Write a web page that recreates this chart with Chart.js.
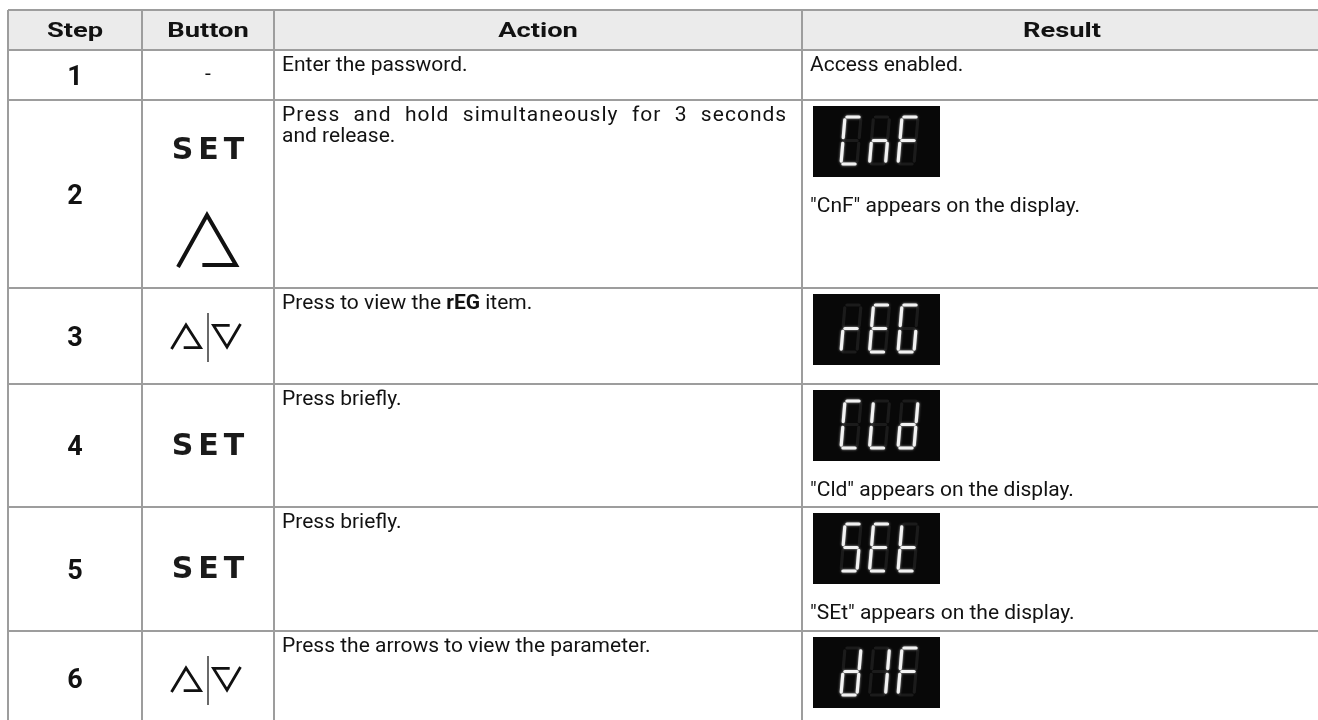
<!DOCTYPE html>
<html>
<head>
<meta charset="utf-8">
<script src="https://cdn.jsdelivr.net/npm/chart.js@4.4.1/dist/chart.umd.min.js"></script>
<style>
  html, body { margin: 0; padding: 0; background: #fff; overflow: hidden; }
  canvas { display: block; }
</style>
</head>
<body>
<canvas id="tableCanvas" width="1322" height="726"></canvas>
<script>
// table content
var columns = ['Step', 'Button', 'Action', 'Result'];
var steps = ['1', '2', '3', '4', '5', '6'];
var buttons = ['-', 'SET+UP', 'UP|DOWN', 'SET', 'SET', 'UP|DOWN'];
var actions = [
  'Enter the password.',
  'Press and hold simultaneously for 3 seconds\nand release.',
  'Press to view the **rEG** item.',
  'Press briefly.',
  'Press briefly.',
  'Press the arrows to view the parameter.'
];
var displays = ['', 'CnF', 'rEG', 'CLd', 'SEt', 'dIF'];
var results = [
  'Access enabled.',
  '"CnF" appears on the display.',
  '',
  '"Cld" appears on the display.',
  '"SEt" appears on the display.',
  ''
];

// layout: column and row boundaries in scale units
var colEdges = [0, 134, 266, 794, 1314];
var rowEdges = [0, 40, 90, 278, 374, 497, 621, 716];

var gridColor = '#9d9d9d';
var textColor = '#121212';
var bodyFont = '21px Roboto';

// seven segment patterns
var SEGS = {
  C: 'adef', n: 'ceg', F: 'aefg', r: 'eg', E: 'adefg', G: 'acdef',
  L: 'def', d: 'bcdeg', S: 'acdfg', t: 'defg', I: 'bc'
};
var SEG_LINES = {
  a: [0.12, 0, 0.88, 0], b: [1, 0.06, 1, 0.44], c: [1, 0.56, 1, 0.94],
  d: [0.12, 1, 0.88, 1], e: [0, 0.56, 0, 0.94], f: [0, 0.06, 0, 0.44],
  g: [0.12, 0.5, 0.88, 0.5]
};

function cell(chart, c, r) {
  var x = chart.scales.x, y = chart.scales.y;
  return {
    l: x.getPixelForValue(colEdges[c]), r: x.getPixelForValue(colEdges[c + 1]),
    t: y.getPixelForValue(rowEdges[r]), b: y.getPixelForValue(rowEdges[r + 1])
  };
}

function drawDigit(ctx, x0, y0, ch) {
  var w = 16, h = 47, slant = 4;
  var on = SEGS[ch] || '';
  function pt(u, v) { return [x0 + u * w + (1 - v) * slant, y0 + v * h]; }
  ctx.lineCap = 'round';
  ctx.lineWidth = 3.2;
  Object.keys(SEG_LINES).forEach(function (s) {
    var L = SEG_LINES[s];
    var p1 = pt(L[0], L[1]), p2 = pt(L[2], L[3]);
    var lit = on.indexOf(s) >= 0;
    ctx.strokeStyle = lit ? '#f2f2f2' : 'rgba(255,255,255,0.08)';
    ctx.shadowColor = lit ? 'rgba(255,255,255,0.7)' : 'transparent';
    ctx.shadowBlur = lit ? 2.5 : 0;
    ctx.beginPath();
    ctx.moveTo(p1[0], p1[1]);
    ctx.lineTo(p2[0], p2[1]);
    ctx.stroke();
  });
  ctx.shadowBlur = 0;
}

function drawDisplay(ctx, left, top, word) {
  ctx.save();
  ctx.fillStyle = '#080808';
  ctx.fillRect(left, top, 127, 71);
  for (var i = 0; i < word.length; i++) {
    drawDigit(ctx, left + 28 + i * 28.5, top + 11, word[i]);
  }
  ctx.restore();
}

function drawSET(ctx, cx, cy) {
  ctx.save();
  ctx.font = 'bold 30px "DejaVu Sans"';
  ctx.fillStyle = '#1a1a1a';
  ctx.textAlign = 'left';
  ctx.textBaseline = 'alphabetic';
  var chars = 'SET'.split(''), gap = 5;
  var widths = chars.map(function (c) { return ctx.measureText(c).width; });
  var total = widths.reduce(function (a, b) { return a + b; }, 0) + gap * (chars.length - 1);
  var x = cx - total / 2;
  chars.forEach(function (c, i) {
    ctx.fillText(c, x, cy + 11);
    x += widths[i] + gap;
  });
  ctx.restore();
}

function drawUp(ctx, cx, top, w, h, lw) {
  ctx.save();
  ctx.strokeStyle = '#111';
  ctx.lineWidth = lw;
  ctx.lineJoin = 'miter';
  ctx.beginPath();
  ctx.moveTo(cx - w / 2, top + h);
  ctx.lineTo(cx, top);
  ctx.lineTo(cx + w / 2, top + h - lw / 2);
  ctx.lineTo(cx - w * 0.08, top + h - lw / 2);
  ctx.stroke();
  ctx.restore();
}

function drawDown(ctx, cx, top, w, h, lw) {
  ctx.save();
  ctx.strokeStyle = '#111';
  ctx.lineWidth = lw;
  ctx.beginPath();
  ctx.moveTo(cx + w / 2, top);
  ctx.lineTo(cx, top + h);
  ctx.lineTo(cx - w / 2, top + lw / 2);
  ctx.lineTo(cx + w * 0.1, top + lw / 2);
  ctx.stroke();
  ctx.restore();
}

function drawArrows(ctx, cx, cy) {
  drawUp(ctx, cx - 22, cy - 12, 29, 24, 2.8);
  drawDown(ctx, cx + 19, cy - 13, 27, 23, 2.8);
  ctx.save();
  ctx.strokeStyle = '#444';
  ctx.lineWidth = 1.6;
  ctx.beginPath();
  ctx.moveTo(cx, cy - 24);
  ctx.lineTo(cx, cy + 25);
  ctx.stroke();
  ctx.restore();
}

// text with **bold** parts; a wrapped line is spread to the given width
// (half of the slack goes between letters, half between words)
function drawRich(ctx, str, x, y, justifyTo) {
  var parts = str.split('**');
  var perChar = 0, perSpace = 0;
  if (justifyTo) {
    ctx.font = bodyFont;
    var plain = parts.join('');
    var slack = justifyTo - ctx.measureText(plain).width;
    var spaces = (plain.match(/ /g) || []).length;
    perChar = slack / 2 / (plain.length - 1);
    perSpace = spaces ? slack / 2 / spaces : 0;
  }
  parts.forEach(function (p, i) {
    ctx.font = (i % 2 ? 'bold ' : '') + bodyFont;
    if (justifyTo) {
      p.split('').forEach(function (ch) {
        ctx.fillText(ch, x, y);
        x += ctx.measureText(ch).width + perChar + (ch === ' ' ? perSpace : 0);
      });
    } else {
      ctx.fillText(p, x, y);
      x += ctx.measureText(p).width;
    }
  });
}

function drawWide(ctx, text, x, y, sx) {
  ctx.save();
  ctx.translate(x, y);
  ctx.scale(sx, 1);
  ctx.fillText(text, 0, 0);
  ctx.restore();
}

var tablePlugin = {
  id: 'tablePlugin',
  beforeDraw: function (chart) {
    var ctx = chart.ctx;
    var h = cell(chart, 0, 0), last = cell(chart, 3, 0);
    ctx.save();
    ctx.fillStyle = '#ebebeb';
    ctx.fillRect(h.l, h.t, last.r - h.l, h.b - h.t);
    ctx.restore();
  },
  afterDraw: function (chart) {
    var ctx = chart.ctx;
    ctx.save();
    ctx.fillStyle = textColor;
    ctx.textBaseline = 'alphabetic';

    // header
    ctx.font = 'bold 21px Roboto';
    ctx.textAlign = 'center';
    columns.forEach(function (name, c) {
      var b = cell(chart, c, 0);
      drawWide(ctx, name, (b.l + b.r) / 2, (b.t + b.b) / 2 + 7.4, 1.3);
    });

    steps.forEach(function (s, i) {
      var r = i + 1;
      // step number
      var b = cell(chart, 0, r);
      ctx.fillStyle = textColor;
      ctx.font = 'bold 27px Roboto';
      ctx.textAlign = 'center';
      ctx.fillText(s, (b.l + b.r) / 2, (b.t + b.b) / 2 + 9.6);

      // button
      var bb = cell(chart, 1, r);
      var cx = (bb.l + bb.r) / 2;
      var cy = (bb.t + bb.b) / 2;
      var btn = buttons[i];
      if (btn === '-') {
        ctx.font = bodyFont;
        ctx.fillText('-', cx, cy + 5);
      } else if (btn === 'SET') {
        drawSET(ctx, cx, cy - 2);
      } else if (btn === 'SET+UP') {
        drawSET(ctx, cx, bb.t + 48);
        drawUp(ctx, cx - 1, bb.t + 115, 58, 52, 4);
      } else if (btn === 'UP|DOWN') {
        drawArrows(ctx, cx, bb.t + 49);
      }

      // action
      var ab = cell(chart, 2, r);
      ctx.fillStyle = textColor;
      ctx.textAlign = 'left';
      var lines = actions[i].split('\n');
      lines.forEach(function (line, k) {
        var just = k < lines.length - 1 ? (ab.r - ab.l - 24) : 0;
        drawRich(ctx, line, ab.l + 8, ab.t + 21 + k * 21, just);
      });

      // result
      var rb = cell(chart, 3, r);
      ctx.font = bodyFont;
      ctx.textAlign = 'left';
      ctx.fillStyle = textColor;
      if (displays[i]) {
        drawDisplay(ctx, rb.l + 11, rb.t + 6, displays[i]);
        if (results[i]) ctx.fillText(results[i], rb.l + 8, rb.t + 112);
      } else if (results[i]) {
        ctx.fillText(results[i], rb.l + 8, rb.t + 21);
      }
    });
    ctx.restore();
  }
};

var ctx = document.getElementById('tableCanvas').getContext('2d');

var tableChart = new Chart(ctx, {
  type: 'scatter',
  data: { datasets: [] },
  options: {
    responsive: false,
    animation: false,
    devicePixelRatio: 1,
    layout: { padding: { left: 8, top: 10, right: 0, bottom: 0 } },
    plugins: { legend: { display: false }, tooltip: { enabled: false } },
    scales: {
      x: {
        type: 'linear',
        min: colEdges[0],
        max: colEdges[colEdges.length - 1],
        ticks: { display: false },
        border: { display: false },
        grid: { color: gridColor, lineWidth: 2, drawTicks: false },
        afterBuildTicks: function (s) { s.ticks = colEdges.map(function (v) { return { value: v }; }); },
        afterFit: function (s) { s.height = 0; }
      },
      y: {
        type: 'linear',
        reverse: true,
        min: rowEdges[0],
        max: rowEdges[rowEdges.length - 1],
        ticks: { display: false },
        border: { display: false },
        grid: { color: gridColor, lineWidth: 2, drawTicks: false },
        afterBuildTicks: function (s) { s.ticks = rowEdges.map(function (v) { return { value: v }; }); },
        afterFit: function (s) { s.width = 0; }
      }
    }
  },
  plugins: [tablePlugin]
});
</script>
</body>
</html>
